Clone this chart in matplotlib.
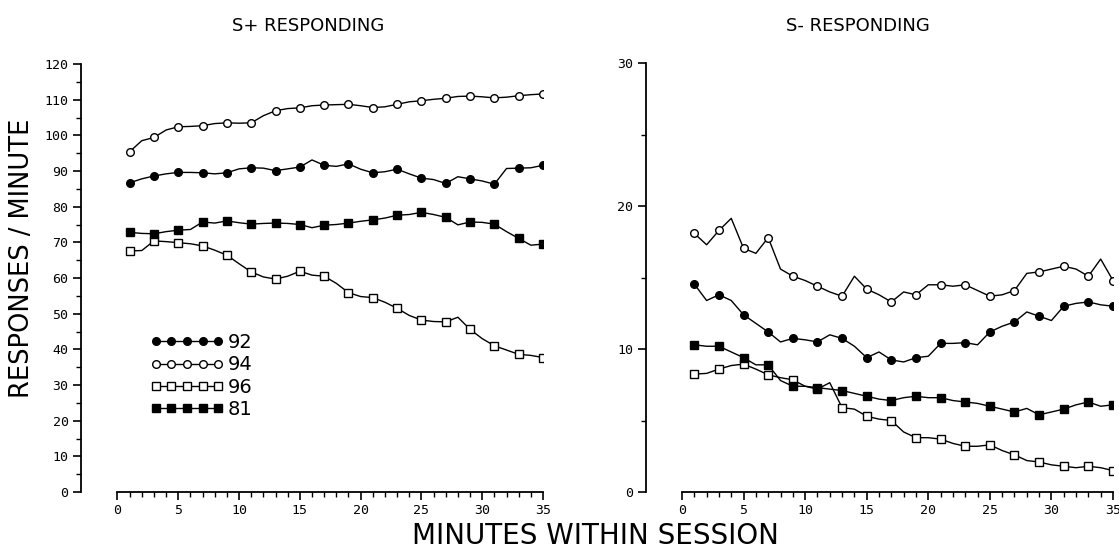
import matplotlib
matplotlib.use("Agg")
import matplotlib.pyplot as plt
from matplotlib.ticker import MultipleLocator, FixedLocator
import numpy as np

minutes = np.arange(1, 36)

# S+ responding (responses / minute)
splus_92 = [86.7, 87.8, 88.6, 89.2, 89.6, 89.6, 89.5, 89.2, 89.5, 90.6, 90.9, 90.8, 90.1, 90.6, 91.1, 93.1, 91.6, 91.3,
            92.0, 90.5, 89.5, 89.8, 90.5, 89.2, 88.0, 87.6, 86.5, 88.4, 87.8, 87.2, 86.3, 90.7, 90.8, 90.9, 91.6]
splus_94 = [95.4, 98.5, 99.4, 101.5, 102.4, 102.5, 102.7, 103.3, 103.5, 103.4, 103.5, 105.5, 106.9, 107.5, 107.7,
            108.3, 108.5, 108.6, 108.7, 108.3, 107.8, 108.0, 108.7, 109.4, 109.7, 110.1, 110.4, 110.9, 111.0, 110.8,
            110.5, 110.7, 111.1, 111.4, 111.6]
splus_96 = [67.6, 67.7, 70.4, 70.2, 69.9, 69.6, 69.0, 67.8, 66.4, 64.0, 61.7, 60.3, 59.7, 60.5, 61.9, 60.8, 60.5, 58.5,
            55.9, 54.8, 54.5, 53.2, 51.5, 49.5, 48.2, 47.8, 47.7, 49.0, 45.6, 43.0, 41.0, 39.8, 38.6, 38.3, 37.7]
splus_81 = [72.8, 72.5, 72.4, 73.0, 73.4, 73.6, 75.7, 75.4, 76.0, 75.5, 75.1, 75.3, 75.4, 75.3, 75.0, 74.1, 74.8, 75.0,
            75.4, 75.9, 76.3, 76.8, 77.6, 77.8, 78.4, 77.8, 77.0, 74.9, 75.7, 75.6, 75.1, 73.0, 71.1, 69.2, 69.5]

# S- responding
sminus_92 = [14.55, 13.4, 13.8, 13.4, 12.4, 11.8, 11.2, 10.5, 10.75, 10.65, 10.5, 11.0, 10.75, 10.2, 9.4, 9.8, 9.24,
             9.1, 9.4, 9.5, 10.4, 10.4, 10.45, 10.3, 11.2, 11.6, 11.9, 12.6, 12.3, 12.0, 13.0, 13.2, 13.3, 13.1, 13.0]
sminus_94 = [18.1, 17.3, 18.3, 19.15, 17.05, 16.7, 17.8, 15.6, 15.1, 14.8, 14.4, 14.0, 13.7, 15.1, 14.2, 13.8, 13.3,
             14.0, 13.8, 14.5, 14.5, 14.4, 14.5, 14.1, 13.7, 13.8, 14.1, 15.3, 15.4, 15.6, 15.8, 15.6, 15.1, 16.3, 14.8]
sminus_96 = [8.25, 8.3, 8.6, 8.85, 8.95, 8.6, 8.2, 8.0, 7.85, 7.4, 7.2, 7.65, 5.9, 5.8, 5.3, 5.1, 5.0, 4.2, 3.8, 3.8,
             3.7, 3.4, 3.2, 3.2, 3.3, 2.9, 2.6, 2.2, 2.1, 1.9, 1.8, 1.7, 1.8, 1.7, 1.5]
sminus_81 = [10.3, 10.2, 10.2, 9.8, 9.4, 8.9, 8.9, 7.8, 7.4, 7.4, 7.3, 7.2, 7.1, 6.9, 6.7, 6.5, 6.4, 6.6, 6.7, 6.6,
             6.6, 6.4, 6.3, 6.2, 6.0, 5.8, 5.6, 5.85, 5.4, 5.6, 5.8, 6.1, 6.3, 6.0, 6.1]

subjects = ["92", "94", "96", "81"]
styles = {"92": dict(marker="o", mfc="black"),
          "94": dict(marker="o", mfc="white"),
          "96": dict(marker="s", mfc="white"),
          "81": dict(marker="s", mfc="black")}

W, H = 1119, 551
fig = plt.figure(figsize=(W / 100, H / 100), dpi=100)

tick_font = dict(family="DejaVu Sans Mono", size=9.5)


def px(x0, y0, x1, y1):
    # pixel box -> figure fraction rect
    return [x0 / W, 1 - y1 / H, (x1 - x0) / W, (y1 - y0) / H]


def style_axis(ax, xmin, ymax, ymajor):
    ax.set_xlim(xmin, 35)
    ax.set_ylim(0, ymax)
    for s in ["top", "right"]:
        ax.spines[s].set_visible(False)
    ax.spines["bottom"].set_bounds(0, 35)
    ax.spines["bottom"].set_linewidth(1.3)
    ax.spines["left"].set_linewidth(1.3)
    ax.xaxis.set_major_locator(FixedLocator(np.arange(0, 36, 5)))
    ax.xaxis.set_minor_locator(FixedLocator(np.arange(0, 36, 1)))
    ax.yaxis.set_major_locator(MultipleLocator(ymajor))
    ax.yaxis.set_minor_locator(MultipleLocator(ymajor / 2))
    ax.tick_params(which="major", direction="out", length=6, width=1.2, pad=3)
    ax.tick_params(which="minor", direction="out", length=3.5, width=1.0)
    for lab in ax.get_xticklabels() + ax.get_yticklabels():
        lab.set_fontfamily(tick_font["family"])
        lab.set_fontsize(tick_font["size"])


ax1 = fig.add_axes(px(81, 64, 543, 492))
ax2 = fig.add_axes(px(646, 63.3, 1113, 492))

left = {"92": splus_92, "94": splus_94, "96": splus_96, "81": splus_81}
right = {"92": sminus_92, "94": sminus_94, "96": sminus_96, "81": sminus_81}

for ax, data in [(ax1, left), (ax2, right)]:
    for s in subjects:
        ax.plot(minutes, data[s], color="black", lw=1.0, markevery=slice(0, None, 2),
                ms=5.5, mec="black", mew=1.0, label=s, **styles[s])

style_axis(ax1, -3, 120, 10)
style_axis(ax2, -36 / 12.32, 30, 10)

leg = ax1.legend(loc="upper left", bbox_to_anchor=(150 / W, 1 - 333 / H), bbox_transform=fig.transFigure,
                 numpoints=5, handlelength=3.8, handletextpad=0.2, labelspacing=0.17,
                 frameon=False, borderpad=0, borderaxespad=0, prop=dict(family="DejaVu Sans", size=14))

fig.text(308 / W, 1 - 26 / H, "S+ RESPONDING", ha="center", va="center", fontsize=13)
fig.text(858 / W, 1 - 26 / H, "S- RESPONDING", ha="center", va="center", fontsize=13)
fig.text(595 / W, 1 - 536 / H, "MINUTES WITHIN SESSION", ha="center", va="center", fontsize=20)
fig.text(22 / W, 1 - 258 / H, "RESPONSES / MINUTE", ha="center", va="center", rotation=90, fontsize=18.5)

fig.savefig("out.png", dpi=100)
